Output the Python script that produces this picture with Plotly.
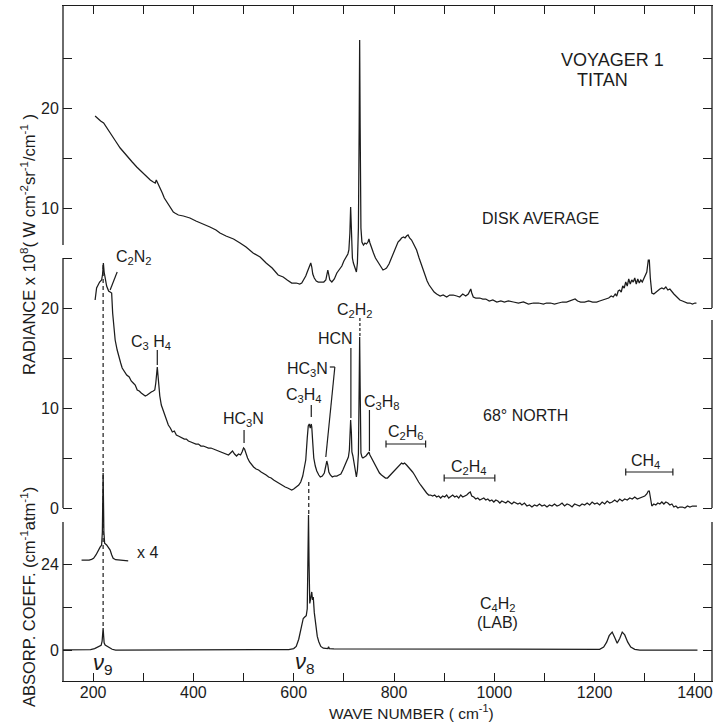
import plotly.graph_objects as go

# ---------------- data ----------------
# 68 deg NORTH spectrum: wave number (cm-1), radiance x 1e8
wn_north = [204, 207, 213, 217, 219, 220.5, 222, 224, 227, 231, 234, 237, 239, 241, 244, 248, 251, 255, 258, 262,
            267, 272, 276, 280, 284, 288, 292, 296, 300, 304, 308, 312, 316, 320, 323, 325, 327, 328, 329, 331,
            333, 336, 340, 344, 347, 350, 354, 358, 362, 366, 370, 374, 378, 382, 386, 390, 395, 400, 405, 410,
            415, 420, 425, 430, 435, 440, 445, 450, 455, 460, 465, 470, 474, 478, 482, 486, 490, 494, 497, 500,
            502, 505, 508, 512, 516, 520, 525, 530, 535, 539, 545, 550, 555, 560, 566, 572, 578, 583, 588, 592,
            596, 600, 605, 610, 614, 618, 621, 624, 627, 629, 631, 633, 635, 636, 638, 640, 643, 646, 650, 653,
            657, 661, 664, 666, 668, 670, 673, 677, 681, 686, 690, 694, 698, 702, 706, 709, 711, 712, 713.5, 715,
            716, 718, 720, 722, 724, 725, 727, 729, 730.5, 731.5, 732.5, 734, 736, 738, 741, 744, 747, 750, 752, 755,
            759, 763, 767, 771, 775, 779, 783, 787, 791, 795, 799, 803, 807, 811, 815, 818, 821, 825, 829, 833,
            837, 841, 845, 849, 853, 857, 861, 865, 869, 873, 877, 881, 885, 889, 893, 897, 901, 905, 909, 913,
            917, 921, 925, 929, 933, 937, 941, 945, 949, 952, 955, 959, 963, 967, 971, 975, 979, 983, 987, 991,
            995, 999, 1003, 1007, 1011, 1015, 1019, 1023, 1027, 1031, 1035, 1039, 1043, 1047, 1051, 1055, 1060, 1065, 1070, 1075,
            1080, 1085, 1090, 1095, 1100, 1105, 1110, 1115, 1120, 1125, 1130, 1135, 1140, 1145, 1150, 1155, 1160, 1165, 1170, 1175,
            1180, 1185, 1190, 1195, 1200, 1205, 1210, 1215, 1220, 1225, 1230, 1235, 1240, 1245, 1250, 1255, 1260, 1265, 1270, 1275,
            1280, 1285, 1290, 1295, 1300, 1304, 1307, 1309, 1311, 1314, 1318, 1322, 1326, 1330, 1334, 1338, 1342, 1346, 1350, 1354,
            1358, 1362, 1366, 1370, 1375, 1380, 1385, 1390, 1395, 1400, 1404]
rad_north = [20.8, 22.0, 22.6, 22.8, 23.4, 24.5, 23.6, 23.0, 22.2, 21.7, 21.6, 21.5, 19.5, 18.0, 16.8, 15.8, 15.1, 14.5, 14.0, 13.7,
             13.3, 13.1, 12.7, 12.5, 12.3, 11.8, 11.7, 11.5, 11.3, 11.2, 11.3, 11.5, 11.6, 11.7, 11.8, 12.5, 13.5, 14.1, 13.5, 12.0,
             11.2, 10.3, 9.7, 9.1, 8.8, 8.3, 8.0, 7.6, 7.7, 7.3, 7.2, 7.1, 7.0, 6.9, 6.9, 6.7, 6.6, 6.5, 6.4, 6.4,
             6.2, 6.2, 6.1, 6.0, 6.0, 5.9, 5.8, 5.7, 5.6, 5.5, 5.4, 5.3, 5.5, 5.7, 5.4, 5.2, 5.4, 5.3, 5.6, 6.0,
             5.9, 5.4, 5.0, 4.6, 4.3, 4.1, 3.9, 3.8, 3.6, 3.5, 3.3, 3.1, 3.0, 2.8, 2.6, 2.4, 2.2, 2.1, 2.0, 1.9,
             1.8, 1.9, 2.1, 2.3, 2.6, 3.2, 4.0, 4.8, 7.0, 8.2, 8.4, 8.0, 8.4, 8.1, 6.5, 5.0, 4.2, 3.7, 3.3, 3.1,
             3.2, 3.5, 4.2, 4.7, 4.3, 3.6, 3.3, 3.1, 3.2, 3.2, 3.3, 3.4, 3.8, 4.3, 4.8, 5.1, 5.8, 7.5, 8.8, 7.5,
             5.6, 5.2, 4.5, 4.0, 3.4, 3.1, 3.8, 5.4, 12.0, 17.1, 12.0, 5.5, 5.1, 5.0, 5.1, 5.2, 5.4, 5.6, 5.3, 5.0,
             4.6, 4.2, 3.8, 3.5, 3.3, 3.1, 3.0, 3.0, 3.2, 3.4, 3.6, 3.9, 4.1, 4.3, 4.5, 4.4, 4.5, 4.3, 4.1, 3.8,
             3.6, 3.3, 2.9, 2.6, 2.3, 2.0, 1.7, 1.5, 1.3, 1.3, 1.2, 1.3, 1.1, 1.2, 1.0, 1.2, 1.1, 1.3, 1.0, 1.2,
             1.3, 1.1, 1.2, 1.0, 1.3, 1.1, 1.2, 1.3, 1.5, 1.6, 1.2, 1.1, 0.9, 1.0, 0.8, 0.9, 1.0, 0.8, 0.9, 0.7,
             0.8, 0.6, 0.8, 0.7, 0.5, 0.7, 0.6, 0.5, 0.7, 0.5, 0.4, 0.6, 0.5, 0.4, 0.5, 0.3, 0.5, 0.2, 0.3, 0.1,
             0.3, 0.2, 0.4, 0.2, 0.3, 0.1, 0.3, 0.2, 0.4, 0.2, 0.3, 0.5, 0.2, 0.4, 0.3, 0.1, 0.4, 0.3, 0.2, 0.4,
             0.3, 0.5, 0.3, 0.6, 0.4, 0.5, 0.3, 0.6, 0.4, 0.7, 0.5, 0.6, 0.8, 0.6, 0.9, 0.7, 0.9, 0.8, 1.0, 0.9,
             1.1, 0.9, 1.0, 1.1, 1.2, 1.4, 1.7, 1.7, 1.0, 0.2, 0.4, 0.3, 0.5, 0.4, 0.6, 0.4, 0.6, 0.5, 0.3, 0.4,
             0.1, 0.2, 0.0, 0.1, 0.1, 0.0, 0.2, 0.1, 0.2, 0.2, 0.2]

# DISK AVERAGE spectrum: wave number (cm-1), radiance x 1e8 (own scale, plotted offset)
wn_disk = [204, 210, 215, 221, 226, 230, 234, 240, 246, 254, 262, 270, 278, 287, 295, 302, 308, 314, 320, 324,
           326, 328, 331, 334, 338, 342, 346, 350, 355, 360, 363, 370, 380, 393, 405, 420, 433, 445, 453, 465,
           480, 493, 505, 519, 533, 545, 557, 569, 579, 587, 596, 605, 612, 616, 620, 624, 627, 629, 632, 634,
           636, 638, 641, 645, 649, 655, 660, 664, 666, 668, 670, 672, 676, 681, 686, 691, 696, 700, 704, 708,
           710, 712, 713.5, 715, 717, 719, 721, 724, 725, 727, 729, 730.5, 731.5, 732.5, 734, 736, 739, 742, 745, 748,
           750, 752, 755, 759, 763, 767, 771, 775, 778, 782, 785, 790, 795, 799, 803, 808, 812, 815, 819, 822,
           825, 828, 831, 835, 838, 841, 845, 850, 854, 858, 862, 866, 870, 875, 880, 885, 892, 898, 905, 911,
           918, 925, 931, 937, 943, 948, 951, 953, 955, 958, 963, 968, 971, 977, 983, 990, 997, 1005, 1013, 1020,
           1028, 1038, 1048, 1058, 1068, 1078, 1088, 1098, 1104, 1112, 1120, 1128, 1136, 1144, 1150, 1156, 1161, 1166, 1172, 1180,
           1188, 1196, 1204, 1210, 1216, 1222, 1228, 1233, 1237, 1241, 1244, 1247, 1250, 1253, 1256, 1259, 1262, 1265, 1268, 1271,
           1274, 1277, 1280, 1283, 1286, 1289, 1292, 1295, 1298, 1301, 1304, 1307, 1309, 1311, 1314, 1318, 1322, 1326, 1330, 1334,
           1338, 1342, 1346, 1350, 1354, 1358, 1362, 1366, 1370, 1375, 1380, 1385, 1390, 1395, 1400, 1403]
rad_disk = [19.2, 18.9, 18.7, 18.5, 18.1, 17.8, 17.5, 17.1, 16.6, 16.0, 15.5, 15.0, 14.6, 14.1, 13.7, 13.4, 13.1, 12.8, 12.6, 12.5,
            12.8, 12.6, 12.2, 12.0, 11.5, 11.0, 10.7, 10.3, 9.9, 9.6, 9.5, 9.3, 9.2, 9.0, 8.7, 8.4, 8.1, 7.8, 7.5, 7.2,
            6.9, 6.5, 6.1, 5.5, 5.1, 4.5, 4.0, 3.3, 3.1, 2.8, 2.5, 2.5, 2.4, 2.5, 2.8, 3.2, 3.6, 3.9, 4.4, 4.5,
            4.1, 3.4, 3.0, 2.7, 2.6, 2.6, 2.6, 2.8, 3.3, 3.8, 3.3, 2.8, 2.6, 2.9, 3.5, 3.8, 4.2, 4.7, 5.1, 5.4,
            5.8, 7.5, 10.1, 7.2, 5.0, 4.5, 4.2, 3.7, 3.6, 4.5, 8.0, 18.0, 26.8, 18.0, 8.0, 6.6, 6.3, 6.5, 6.4, 6.6,
            6.9, 6.5, 6.0, 5.5, 5.0, 4.7, 4.3, 4.0, 3.8, 3.9, 4.0, 4.4, 5.0, 5.5, 6.0, 6.6, 6.8, 7.0, 7.1, 7.0,
            7.2, 7.3, 7.0, 6.8, 6.5, 6.2, 5.8, 5.0, 4.4, 3.8, 3.2, 2.7, 2.3, 1.9, 1.6, 1.4, 1.2, 1.3, 1.1, 1.3,
            1.3, 1.2, 1.1, 1.4, 1.2, 1.4, 1.8, 1.9, 1.5, 1.1, 1.0, 1.0, 1.0, 0.9, 0.9, 0.7, 0.8, 0.6, 0.7, 0.6,
            0.7, 0.6, 0.5, 0.6, 0.4, 0.5, 0.5, 0.4, 0.5, 0.5, 0.4, 0.5, 0.6, 0.6, 0.7, 0.8, 0.9, 0.7, 0.6, 0.6,
            0.7, 0.6, 0.6, 0.7, 0.8, 0.9, 1.0, 1.2, 1.1, 1.4, 1.2, 1.7, 1.8, 1.6, 2.2, 2.0, 2.6, 2.2, 2.9, 2.4,
            2.8, 2.6, 3.0, 2.4, 2.9, 2.5, 2.8, 2.6, 3.0, 3.2, 3.6, 4.8, 4.8, 3.0, 1.5, 1.4, 1.6, 1.8, 1.9, 2.0,
            1.9, 2.1, 1.8, 1.9, 1.6, 1.4, 1.2, 1.0, 0.8, 0.7, 0.6, 0.5, 0.5, 0.4, 0.5, 0.5]

# C4H2 laboratory absorption coefficient (cm-1 atm-1)
wn_lab = [140, 180, 195, 203, 208, 212, 216, 218, 219.5, 220, 221, 222, 224, 228, 232, 238, 245, 400, 590, 600,
          605, 610, 614, 617, 619, 622, 625, 627, 628.5, 629.5, 630.5, 632, 634, 636, 637.5, 639, 641, 644, 647, 650,
          654, 659, 665, 668, 669.5, 671, 680, 750, 850, 950, 1100, 1200, 1210, 1218, 1224, 1229, 1235, 1240, 1245, 1250,
          1255, 1260, 1266, 1272, 1280, 1290, 1405]
abs_lab = [0.0, 0.0, 0.1, 0.4, 0.8, 1.1, 1.3, 2.5, 5.0, 6.1, 4.0, 2.0, 1.4, 1.1, 0.6, 0.2, 0.0, 0.0, 0.1, 0.4,
           1.0, 3.0, 5.8, 7.9, 8.8, 9.2, 9.6, 11.5, 25.0, 37.7, 25.0, 13.0, 14.5, 16.2, 14.0, 14.8, 10.5, 6.5, 3.8, 2.3,
           1.0, 0.5, 0.3, 0.4, 0.9, 0.4, 0.3, 0.3, 0.2, 0.1, 0.1, 0.1, 0.2, 0.8, 2.2, 4.0, 5.0, 3.5, 1.9, 3.2,
           5.0, 4.2, 2.2, 0.8, 0.2, 0.0, 0.0]

# nu9 band magnified x4, drawn on its own baseline
wn_x4 = [177, 185, 192, 197, 201, 206, 211, 214, 217, 218.5, 219.5, 220, 220.5, 221.5, 223, 227, 231, 234, 237, 240,
         245, 250, 258, 265, 270]
abs_x4 = [25.1, 25.0, 25.1, 25.3, 25.6, 26.6, 28.1, 28.7, 29.3, 33.0, 44.0, 49.4, 44.0, 33.0, 29.8, 29.3, 28.6, 27.9, 26.6, 25.6,
          25.2, 25.1, 25.0, 25.0, 24.9]

x_ticks = list(range(200, 1401, 100))
x_tick_text = [str(v) if v % 200 == 0 else "" for v in x_ticks]
rad_ticks = [0, 5, 10, 15, 20, 25, 30, 35, 40, 45]
rad_tick_text = ["0", "", "10", "", "20", "", "10", "", "20", ""]
abs_ticks = [0, 12, 24]
abs_tick_text = ["0", "", "24"]

DISK_OFFSET = 20  # disk-average curve drawn 20 units above the 68N curve

# ---------------- style ----------------
INK = "#1c1c1c"
FONT = "Liberation Sans"
LW = 1.25

fig = go.Figure()
fig.add_trace(go.Scatter(x=wn_disk, y=[d + DISK_OFFSET for d in rad_disk], mode="lines",
                         line=dict(color=INK, width=LW), yaxis="y", showlegend=False))
fig.add_trace(go.Scatter(x=wn_north, y=rad_north, mode="lines",
                         line=dict(color=INK, width=LW), yaxis="y", showlegend=False))
fig.add_trace(go.Scatter(x=wn_lab, y=abs_lab, mode="lines",
                         line=dict(color=INK, width=LW), yaxis="y2", showlegend=False))
fig.add_trace(go.Scatter(x=wn_x4, y=abs_x4, mode="lines",
                         line=dict(color=INK, width=LW), yaxis="y2", showlegend=False))

RAD_RANGE = [-17.3, 50.2]
ABS_RANGE = [-8.651, 179.72]

fig.update_layout(
    width=720, height=722,
    margin=dict(l=63, r=8, t=6, b=41),
    paper_bgcolor="white", plot_bgcolor="white",
    font=dict(family=FONT, color=INK, size=15),
    xaxis=dict(range=[140, 1434], tickvals=x_ticks, ticktext=x_tick_text,
               ticks="inside", ticklen=8, tickwidth=1.2, tickcolor=INK,
               showline=True, linecolor=INK, linewidth=1.3, mirror="ticks",
               showgrid=False, zeroline=False, tickfont=dict(size=16), ticklabelstandoff=-3),
    yaxis=dict(range=RAD_RANGE, tickvals=rad_ticks, ticktext=rad_tick_text,
               ticks="inside", ticklen=9, tickwidth=1.2, tickcolor=INK,
               showline=True, linecolor="rgba(0,0,0,0)", mirror="ticks",
               showgrid=False, zeroline=False, tickfont=dict(size=16)),
    yaxis2=dict(range=ABS_RANGE, tickvals=abs_ticks, ticktext=abs_tick_text, overlaying="y", side="left",
                anchor="x", ticks="inside", ticklen=9, tickwidth=1.2, tickcolor=INK,
                showline=True, linecolor="rgba(0,0,0,0)", mirror="ticks",
                showgrid=False, zeroline=False, tickfont=dict(size=16)),
)

shapes = []
def seg(x0, y0, x1, y1, yref="y", xref="x", dash="solid", w=1.2):
    shapes.append(dict(type="line", xref=xref, yref=yref, x0=x0, y0=y0, x1=x1, y1=y1,
                       line=dict(color=INK, width=w, dash=dash)))

# broken frame segments (left / right)
seg(0, RAD_RANGE[1], 0, 26.3, xref="paper", w=1.3)
seg(0, 25, 0, 0, xref="paper", w=1.3)
seg(0, 35.7, 0, ABS_RANGE[0], xref="paper", yref="y2", w=1.3)
seg(1, RAD_RANGE[1], 1, 20, xref="paper", w=1.3)
seg(1, 18.8, 1, 0, xref="paper", w=1.3)
seg(1, 35.7, 1, ABS_RANGE[0], xref="paper", yref="y2", w=1.3)

# band-identification dashed lines
seg(220, 24.3, 220, -12.0, dash="4px,3px")
seg(630, 2.6, 630, -0.7, dash="4px,3px")

# label leaders
seg(248, 23.6, 234, 21.8)          # C2N2
seg(328, 15.8, 328, 14.3)          # C3H4
seg(501, 7.8, 501, 6.5)            # HC3N
seg(635, 10.3, 635, 9.1)           # C3H4 (630)
seg(672, 14.1, 682, 14.1)          # HC3N hook
seg(682, 14.1, 664, 5.1)           # HC3N (663)
seg(714, 16.0, 714, 9.0)           # HCN
seg(732, 19.0, 732, 17.2, dash="3px,2px")  # C2H2
seg(751, 9.8, 751, 5.7)            # C3H8
# band ranges with end caps
for (a, b, yy) in [(784, 863, 6.4), (900, 1001, 3.0), (1262, 1356, 3.6)]:
    seg(a, yy, b, yy)
    seg(a, yy - 0.35, a, yy + 0.35)
    seg(b, yy - 0.35, b, yy + 0.35)

fig.update_layout(shapes=shapes)

ann = []
def txt(t, x, y, yref="y", size=15, **kw):
    ann.append(dict(text=t, x=x, y=y, xref="x", yref=yref, showarrow=False,
                    xanchor="center", yanchor="middle",
                    font=dict(family=FONT, size=size, color=INK), **kw))

txt("VOYAGER 1", 1235, 44.8, size=18)
txt("TITAN", 1215, 42.8, size=18)
txt("DISK AVERAGE", 1093, 29.0, size=16)
txt("68° NORTH", 1063, 9.3, size=16)
txt("C<sub>2</sub>N<sub>2</sub>", 282, 25.1, size=16)
txt("C<sub>3</sub> H<sub>4</sub>", 316, 16.6, size=16)
txt("HC<sub>3</sub>N", 499, 8.9, size=16)
txt("C<sub>3</sub>H<sub>4</sub>", 621, 11.3, size=16)
txt("HC<sub>3</sub>N", 627, 13.9, size=16)
txt("HCN", 684, 17.0, size=16)
txt("C<sub>2</sub>H<sub>2</sub>", 722, 19.8, size=16)
txt("C<sub>3</sub>H<sub>8</sub>", 777, 10.6, size=16)
txt("C<sub>2</sub>H<sub>6</sub>", 823, 7.6, size=16)
txt("C<sub>2</sub>H<sub>4</sub>", 949, 4.1, size=16)
txt("CH<sub>4</sub>", 1302, 4.7, size=16)
txt("x 4", 308, 27.3, yref="y2", size=16)
txt("C<sub>4</sub>H<sub>2</sub>", 1007, 12.6, yref="y2", size=16)
txt("(LAB)", 1007, 7.8, yref="y2", size=16)
txt("<i>ν</i><sub>9</sub>", 220, -3.8, yref="y2", size=22)
txt("<i>ν</i><sub>8</sub>", 623, -3.6, yref="y2", size=22)

# axis titles (positions given in pixels, converted to paper coordinates)
titles = [
    ("WAVE NUMBER ( cm<sup>-1</sup>)", 411, 712, 0, 15.5),
    ("RADIANCE x 10<sup>8</sup>( W cm<sup>-2</sup>sr<sup>-1</sup>/cm<sup>-1</sup> )", 28, 245, -90, 16.5),
    ("ABSORP. COEFF. (cm<sup>-1</sup>atm<sup>-1</sup>)", 28, 597, -90, 16.5),
]
for t, px, py, ang, fs in titles:
    ann.append(dict(text=t, x=(px - 63) / 649.0, y=(681 - py) / 675.0, xref="paper", yref="paper",
                    textangle=ang, showarrow=False, xanchor="center", yanchor="middle",
                    font=dict(family=FONT, size=fs, color=INK)))

fig.update_layout(annotations=ann)
fig.write_html("out.html")
